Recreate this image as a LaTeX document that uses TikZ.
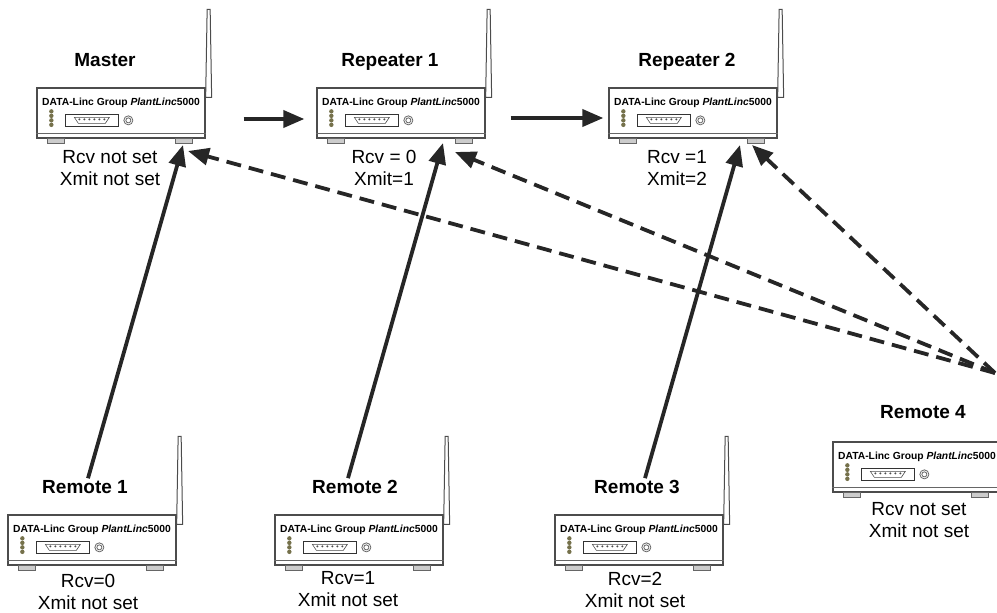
\documentclass[tikz,border=0pt]{standalone}
\usepackage{fontspec}
\setmainfont{Liberation Sans}
\usetikzlibrary{arrows.meta}

\begin{document}
\begin{tikzpicture}
  [x=1pt,y=-1pt,
   unit/.style={draw=black!70,line width=1.3pt,fill=white,minimum width=168pt,minimum height=50pt,inner sep=0pt},
   title/.style={font=\fontsize{19}{22}\selectfont\bfseries,text depth=0pt,inner sep=2pt},
   info/.style={font=\fontsize{19}{22}\selectfont,align=center,inner sep=1pt},
   brand/.style={font=\fontsize{10.3}{11}\selectfont\bfseries,inner sep=0pt},
   wire/.style={line width=3.8pt,black!85,-{Triangle[length=21pt,width=17pt]}},
   radio/.style={wire,dash pattern=on 15pt off 8pt}]
  \useasboundingbox (0,0) rectangle (997,613);
  \clip (0,0) rectangle (997,613);

  \node[unit] (master) at (121,113) {};
  \node[unit] (rep1)   at (401,113) {};
  \node[unit] (rep2)   at (693,113) {};
  \node[unit] (rem1)   at (92,540)  {};
  \node[unit] (rem2)   at (359,540) {};
  \node[unit] (rem3)   at (639,540) {};
  \node[unit] (rem4)   at (917,467) {};

  % antenna, feet and front panel of every unit
  \foreach \u in {master,rep1,rep2,rem1,rem2,rem3,rem4} {
    \draw[black!70,line width=1pt,fill=white]
      ([yshift=-10pt]\u.north east) -- ++(6,0) -- ++(-1.5,-88) -- ++(-3,0) -- cycle;
    \draw[black!60,fill=black!20] ([xshift=11pt]\u.south west) rectangle ++(17,5);
    \draw[black!60,fill=black!20] ([xshift=-30pt]\u.south east) rectangle ++(17,5);
    \draw[black!60,line width=0.9pt] ([yshift=5pt]\u.south west) -- ([yshift=5pt]\u.south east);
    \node[brand] (\u-brand) at ([yshift=-15pt]\u.north) {DATA-Linc Group \textit{PlantLinc}5000};
    \foreach \k in {0,1,2,3}
      \fill[olive!45!black!80] ([xshift=15pt,yshift=-24pt-4.5pt*\k]\u.north west) circle (2.2pt);
    \draw[black!80,line width=1.3pt] ([xshift=29pt,yshift=-27pt]\u.north west) rectangle ++(53,12);
    \draw[black!70,line width=0.6pt] ([xshift=38pt,yshift=-30pt]\u.north west) -- ++(35,0) -- ++(-4,6) -- ++(-27,0) -- cycle;
    \foreach \k in {0,...,5}
      \fill[black!70] ([xshift=43pt+5pt*\k,yshift=-32pt]\u.north west) circle (1.1pt);
    \draw[black!60,line width=0.8pt] ([xshift=92pt,yshift=-33pt]\u.north west) circle (4.5pt) circle (2.5pt);
  }

  \node[title] (master-t) at (105,60)  {Master};
  \node[title] (rep1-t)   at (390,60)  {Repeater 1};
  \node[title] (rep2-t)   at (687,60)  {Repeater 2};
  \node[title] (rem1-t)   at (85,487)  {Remote 1};
  \node[title] (rem2-t)   at (355,487) {Remote 2};
  \node[title] (rem3-t)   at (637,487) {Remote 3};
  \node[title] (rem4-t)   at (923,412) {Remote 4};

  \node[info] (master-i) at (110,168) {Rcv not set\\Xmit not set};
  \node[info] (rep1-i)   at (384,168) {Rcv = 0\\Xmit=1};
  \node[info] (rep2-i)   at (677,168) {Rcv =1\\Xmit=2};
  \node[info] (rem1-i)   at (88,592)  {Rcv=0\\Xmit not set};
  \node[info] (rem2-i)   at (348,589) {Rcv=1\\Xmit not set};
  \node[info] (rem3-i)   at (635,590) {Rcv=2\\Xmit not set};
  \node[info] (rem4-i)   at (919,520) {Rcv not set\\Xmit not set};

  \coordinate (master-in)  at (183,145);
  \coordinate (rep1-in)    at (443,143);
  \coordinate (rep2-in)    at (740,145);
  \coordinate (master-air) at (188,151);
  \coordinate (rep1-air)   at (455,152);
  \coordinate (rep2-air)   at (752,145);
  \coordinate (hub)        at (995,373);

  \draw[wire] ([xshift=38pt,yshift=-6pt]master.east) -- ([xshift=-12pt,yshift=-6pt]rep1.west);
  \draw[wire] ([xshift=25pt,yshift=-5pt]rep1.east) -- ([xshift=-5pt,yshift=-5pt]rep2.west);

  \foreach \to in {master,rep1,rep2}
    \draw[radio] (hub) -- (\to-air);

  \draw[wire] ([xshift=3pt]rem1-t.north) -- (master-in);
  \draw[wire] ([xshift=-7pt]rem2-t.north) -- (rep1-in);
  \draw[wire] ([xshift=8pt]rem3-t.north) -- (rep2-in);

\end{tikzpicture}
\end{document}
